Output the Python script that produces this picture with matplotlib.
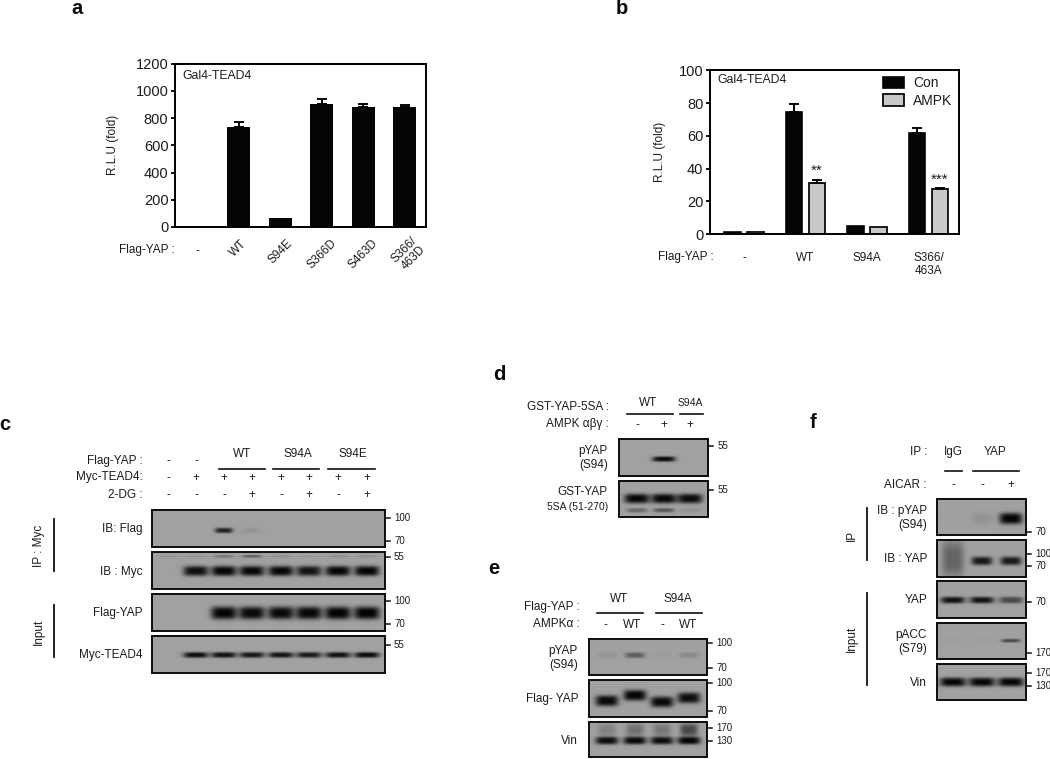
"""
Recreates the YAP / TEAD4 figure: two reporter bar charts and four immunoblot panels.
Everything is placed on a 1050x759 pixel canvas.
"""
import matplotlib
matplotlib.use("Agg")
from matplotlib import pyplot as plt
from matplotlib.patches import Rectangle
from matplotlib.transforms import ScaledTranslation
import numpy as np

plt.rcParams["font.family"] = ["Liberation Sans", "DejaVu Sans"]

INK = "#1c1c1c"
GEL_GREY = 0.63

## Panel a
a_labels = ["-", "WT", "S94E", "S366D", "S463D", "S366/\n463D"]
a_values = [3, 732, 68, 904, 882, 879]
a_errors = [0, 37, 0, 34, 22, 20]
a_yticks = [0, 200, 400, 600, 800, 1000, 1200]

## Panel b
b_labels = ["-", "WT", "S94A", "S366/\n463A"]
b_con = [1.2, 74.5, 5.2, 61.5]
b_con_err = [0, 4.7, 0, 3.2]
b_ampk = [1.2, 31.5, 4.5, 27.5]
b_ampk_err = [0, 1.5, 0, 1.0]
b_yticks = [0, 20, 40, 60, 80, 100]

## Band darkness per lane, 0 = nothing, 1 = black
c_flag = [0, 0, 0.8, 0.08, 0, 0, 0, 0]
c_myc = [0, 0.92, 0.97, 0.96, 0.96, 0.88, 0.97, 0.98]
c_myc_upper = [0.06, 0.06, 0.25, 0.4, 0.1, 0.05, 0.1, 0.1]
c_input_flag = [0, 0, 0.98, 0.95, 0.95, 0.96, 0.99, 0.99]
c_input_myc = [0, 0.92, 0.9, 0.86, 0.88, 0.84, 0.9, 0.94]

d_pyap = [0, 0.95, 0]
d_gst = [0.96, 0.96, 0.94]
d_gst_lower = [0.35, 0.45, 0.1]

e_pyap = [0.07, 0.42, 0.03, 0.14]
e_flag = [0.95, 0.97, 0.95, 0.92]
e_vin = [0.92, 0.95, 0.92, 0.97]
e_vin_upper = [0.2, 0.3, 0.25, 0.55]

f_pyap = [0, 0.08, 0.98]
f_yap_ip = [0, 0.85, 0.85]
f_smear = [0.38, 0, 0]
f_yap = [0.9, 0.88, 0.55]
f_pacc = [0.03, 0.03, 0.55]
f_vin = [0.96, 0.95, 0.96]


def axes_from_pixels(fig: plt.Figure, x0: float, y0: float, x1: float, y1: float) -> plt.Axes:
    """Axes whose frame sits at the given pixel box, y measured from the top."""
    return fig.add_axes([x0 / 1050, 1 - y1 / 759, (x1 - x0) / 1050, (y1 - y0) / 759])


def style_bar_axes(ax: plt.Axes, yticks: list, labels: list, pad: float, label_x: float) -> None:
    for spine in ax.spines.values():
        spine.set_linewidth(1.4)
    ax.set_yticks(yticks)
    ax.set_xticks(range(len(labels)))
    ax.set_xticklabels(labels, fontsize=8.5, color=INK)
    ax.tick_params(axis="x", length=0, pad=pad)
    ax.tick_params(axis="y", length=3.2, width=1.3, labelsize=10.5, labelcolor=INK, pad=1.5)
    ax.set_ylabel("R.L.U (fold)", fontsize=8.5, color=INK)
    ax.yaxis.set_label_coords(label_x, 0.5)


def upper_errors(ax: plt.Axes, x: np.ndarray, values: list, errors: list) -> None:
    """One-sided error bars, only where an error was visible in the figure."""
    errors = np.array(errors, dtype=float)
    shown = errors > 0
    ax.errorbar(x[shown], np.array(values)[shown], yerr=[np.zeros(shown.sum()), errors[shown]], fmt="none",
                ecolor="#050505", elinewidth=1.4, capsize=3.6, capthick=1.4)


def draw_gel(canvas: plt.Axes, box: tuple, lanes: list, bands: list) -> None:
    """
    Paints one blot strip.

    Args:
        canvas: Pixel-coordinate axes
        box: (x0, y0, x1, y1) of the strip
        lanes: Lane centres in pixels
        bands: List of (darkness per lane, y fraction, half width, half height)
    """
    x0, y0, x1, y1 = box
    xs, ys = np.meshgrid(np.arange(x0, x1, 0.5), np.arange(y0, y1, 0.5))
    ink = np.zeros_like(xs, dtype=float)

    for levels, y_frac, half_w, half_h in bands:
        y_fracs = np.broadcast_to(y_frac, (len(lanes),))
        for lane, level, frac in zip(lanes, levels, y_fracs):
            centre_y = y0 + frac * (y1 - y0)
            ink += level * np.exp(-np.abs((xs - lane) / half_w) ** 4) * np.exp(-np.abs((ys - centre_y) / half_h) ** 3)

    image = GEL_GREY * (1 - np.clip(ink, 0, 0.97))
    canvas.imshow(image, cmap="gray", vmin=0, vmax=1, extent=(x0, x1, y1, y0),
                  aspect="auto", interpolation="bilinear", zorder=1)
    canvas.add_patch(Rectangle((x0, y0), x1 - x0, y1 - y0, fill=False, edgecolor="#0c0c0c",
                               linewidth=1.4, zorder=2))


def put_text(canvas: plt.Axes, x: float, y: float, text: str, size: float = 8.5, ha: str = "center", **kwargs) -> None:
    canvas.text(x, y, text, fontsize=size, ha=ha, va="center", color=INK, **kwargs)


def put_lines(canvas: plt.Axes, y: float, spans: list) -> None:
    for start, end in spans:
        canvas.plot([start, end], [y, y], color="#111111", linewidth=1.2, zorder=3)


def put_markers(canvas: plt.Axes, x: float, marks: list) -> None:
    """Molecular weight ticks to the right of a blot."""
    for y, label in marks:
        canvas.plot([x, x + 5], [y, y], color="#111111", linewidth=1.1, zorder=3)
        put_text(canvas, x + 9, y, label, size=7, ha="left")


def put_side_group(canvas: plt.Axes, x_line: float, x_text: float, y0: float, y1: float, y_text: float, label: str) -> None:
    canvas.plot([x_line, x_line], [y0, y1], color="#111111", linewidth=1.3, zorder=3)
    put_text(canvas, x_text, y_text, label, rotation=90)


def main():
    fig = plt.figure(figsize=(10.5, 7.59), dpi=100)

    # Panel a bars
    ax_a = axes_from_pixels(fig, 175, 63.7, 425.7, 227)
    x_a = np.arange(len(a_values))
    ax_a.bar(x_a, a_values, width=0.55, color="#050505")
    upper_errors(ax_a, x_a, a_values, a_errors)
    ax_a.set_xlim(-0.53, 5.5)
    ax_a.set_ylim(0, 1200)
    style_bar_axes(ax_a, a_yticks, a_labels, 7.5, -0.224)
    for label in ax_a.get_xticklabels()[1:]:
        label.set_rotation(45)
        label.set_linespacing(1.0)
    ax_a.xaxis.get_major_ticks()[0].set_pad(13)
    last_label = ax_a.get_xticklabels()[-1]
    last_label.set_transform(last_label.get_transform() + ScaledTranslation(4 / 100, 3 / 100, fig.dpi_scale_trans))
    ax_a.text(0.03, 0.925, "Gal4-TEAD4", transform=ax_a.transAxes, fontsize=8.8, va="center", color=INK)

    # Panel b bars
    ax_b = axes_from_pixels(fig, 710, 70.3, 959, 234.3)
    x_groups = np.arange(len(b_con))
    bars_con = ax_b.bar(x_groups - 0.187, b_con, width=0.266, color="#050505", edgecolor="#050505", linewidth=1.2, label="Con")
    bars_ampk = ax_b.bar(x_groups + 0.187, b_ampk, width=0.266, color="#c9c9c9", edgecolor="#0a0a0a", linewidth=1.3, label="AMPK")
    upper_errors(ax_b, x_groups - 0.187, b_con, b_con_err)
    upper_errors(ax_b, x_groups + 0.187, b_ampk, b_ampk_err)
    ax_b.set_xlim(-0.553, 3.496)
    ax_b.set_ylim(0, 100)
    style_bar_axes(ax_b, b_yticks, b_labels, 12.5, -0.177)
    ax_b.text(0.028, 0.94, "Gal4-TEAD4", transform=ax_b.transAxes, fontsize=8.8, va="center", color=INK)
    ax_b.text(1 + 0.187, 39, "**", fontsize=11, ha="center", va="center", color=INK)
    ax_b.text(3 + 0.187, 33, "***", fontsize=11, ha="center", va="center", color=INK)
    ax_b.legend(handles=[bars_con, bars_ampk], loc="upper right", bbox_to_anchor=(1.005, 1.01), frameon=False, fontsize=10,
                handlelength=1.5, handleheight=0.85, handletextpad=0.7, labelspacing=0.25, borderpad=0.35,
                borderaxespad=0.2, labelcolor=INK)

    # Everything else goes on a full-figure pixel canvas
    canvas = fig.add_axes([0, 0, 1, 1])
    canvas.patch.set_alpha(0)

    for letter, x, y in [("a", 77, 9), ("b", 622, 9), ("c", 5, 425), ("d", 499, 375), ("e", 494, 569), ("f", 813, 422)]:
        canvas.text(x, y, letter, fontsize=14.5, fontweight="bold", ha="center", va="center", color="#0a0a0a")

    put_text(canvas, 175, 250, "Flag-YAP :", ha="right")
    put_text(canvas, 714, 257, "Flag-YAP :", ha="right")

    # Panel c
    c_lanes = [168, 196, 224, 252, 281, 309, 338, 367]
    draw_gel(canvas, (152.3, 510.3, 385, 547), c_lanes, [(c_flag, 0.55, 9, 2.6)])
    draw_gel(canvas, (152.3, 552.3, 385, 589), c_lanes,
             [(c_myc, 0.51, 12.5, 5), (c_myc_upper, 0.11, 10, 1.4)])
    draw_gel(canvas, (152.3, 594, 385, 630.7), c_lanes, [(c_input_flag, 0.51, 13, 6.4)])
    draw_gel(canvas, (152.3, 636, 385, 672.7), c_lanes, [(c_input_myc, 0.51, 12.5, 2.8)])
    for x, sign_row in zip(c_lanes, [("-", "-", "-"), ("-", "+", "-"), (None, "+", "-"), (None, "+", "+"),
                                     (None, "+", "-"), (None, "+", "+"), (None, "+", "-"), (None, "+", "+")]):
        for y, sign in zip([461, 478, 495], sign_row):
            if sign:
                put_text(canvas, x, y, sign)
    put_text(canvas, 143, 461, "Flag-YAP :", ha="right")
    put_text(canvas, 143, 477, "Myc-TEAD4:", ha="right")
    put_text(canvas, 143, 495, "2-DG :", ha="right")
    for x, label in [(242, "WT"), (298, "S94A"), (353, "S94E")]:
        put_text(canvas, x, 454, label)
    put_lines(canvas, 469, [(219, 265), (273, 319), (328, 375)])
    for y, label in [(529, "IB: Flag"), (571.7, "IB : Myc"), (613, "Flag-YAP"), (655, "Myc-TEAD4")]:
        put_text(canvas, 142, y, label, ha="right")
    put_markers(canvas, 385, [(518, "100"), (541, "70"), (557, "55"), (601, "100"), (624, "70"), (645, "55")])
    put_side_group(canvas, 54, 39, 519, 571, 546, "IP : Myc")
    put_side_group(canvas, 54, 39, 605, 657, 632, "Input")

    # Panel d
    d_lanes = [637, 664, 690]
    draw_gel(canvas, (619.3, 439, 708.3, 475.7), d_lanes, [(d_pyap, 0.54, 11.5, 2.6)])
    draw_gel(canvas, (619.3, 480.7, 708.3, 517.3), d_lanes,
             [(d_gst, 0.5, 12.5, 4.8), (d_gst_lower, 0.82, 10.5, 2.2)])
    put_text(canvas, 609, 407, "GST-YAP-5SA :", ha="right")
    put_text(canvas, 609, 424, "AMPK αβγ :", ha="right")
    put_text(canvas, 648, 403, "WT")
    put_text(canvas, 690, 403, "S94A", size=7.5)
    put_lines(canvas, 414, [(627, 673), (680, 703)])
    for x, sign in zip(d_lanes, ["-", "+", "+"]):
        put_text(canvas, x, 425, sign)
    for y, label, size in [(451, "pYAP", 8.5), (465, "(S94)", 8.5), (492, "GST-YAP", 8.5), (507, "5SA (51-270)", 7.5)]:
        put_text(canvas, 608, y, label, size=size, ha="right")
    put_markers(canvas, 708.3, [(446, "55"), (490, "55")])

    # Panel e
    e_lanes = [607, 635, 662, 689]
    draw_gel(canvas, (589.3, 638.7, 707.3, 675), e_lanes, [(e_pyap, 0.46, 10, 2.8)])
    draw_gel(canvas, (589.3, 680, 707.3, 716.7), e_lanes, [(e_flag, [0.56, 0.41, 0.59, 0.48], 11.5, 5.4)])
    draw_gel(canvas, (589.3, 721.7, 707.3, 757), e_lanes,
             [(e_vin, 0.54, 11.5, 3.8), (e_vin_upper, 0.24, 9, 6)])
    put_text(canvas, 580, 607, "Flag-YAP :", ha="right")
    put_text(canvas, 580, 624, "AMPKα :", ha="right")
    put_text(canvas, 619, 599, "WT")
    put_text(canvas, 678, 599, "S94A")
    put_lines(canvas, 613, [(597, 643), (656, 702)])
    for x, label in zip([605, 632, 662, 688], ["-", "WT", "-", "WT"]):
        put_text(canvas, x, 625, label)
    for y, label in [(651, "pYAP"), (665, "(S94)"), (699, "Flag- YAP"), (741, "Vin")]:
        put_text(canvas, 578, y, label, ha="right")
    put_markers(canvas, 707.3, [(643, "100"), (668, "70"), (683, "100"), (711, "70"), (728, "170"), (741, "130")])

    # Panel f
    f_lanes = [953, 982, 1011]
    draw_gel(canvas, (937.3, 499, 1026, 535.3), f_lanes, [(f_pyap, 0.55, 11.5, 5.6)])
    draw_gel(canvas, (937.3, 540.3, 1026, 576.7), f_lanes,
             [(f_yap_ip, 0.56, 10.5, 4.2), (f_smear, 0.5, 11, 18)])
    draw_gel(canvas, (937.3, 581.3, 1026, 617.7), f_lanes, [(f_yap, 0.51, 12, 3.3)])
    draw_gel(canvas, (937.3, 622.7, 1026, 659), f_lanes, [(f_pacc, 0.5, 9.5, 1.8)])
    draw_gel(canvas, (937.3, 664, 1026, 700.3), f_lanes, [(f_vin, 0.51, 13, 4.4)])
    put_text(canvas, 927, 452, "IP :", ha="right")
    put_text(canvas, 953, 452, "IgG")
    put_text(canvas, 995, 452, "YAP")
    put_lines(canvas, 471, [(945, 962), (973, 1019)])
    put_text(canvas, 926, 485, "AICAR :", ha="right")
    for x, sign in zip(f_lanes, ["-", "-", "+"]):
        put_text(canvas, x, 485, sign)
    for y, label in [(511, "IB : pYAP"), (525, "(S94)"), (559, "IB : YAP"), (600, "YAP"),
                     (635, "pACC"), (649, "(S79)"), (683, "Vin")]:
        put_text(canvas, 927, y, label, ha="right")
    put_markers(canvas, 1026, [(532, "70"), (554, "100"), (566, "70"), (602, "70"), (653, "170"), (673, "170"), (686, "130")])
    put_side_group(canvas, 867, 852, 508, 560, 535, "IP")
    put_side_group(canvas, 867, 852, 593, 685, 639, "Input")

    canvas.set_xlim(0, 1050)
    canvas.set_ylim(759, 0)
    canvas.axis("off")

    plt.savefig("out.png", format="png", dpi=100)


if __name__ == '__main__':
    main()
